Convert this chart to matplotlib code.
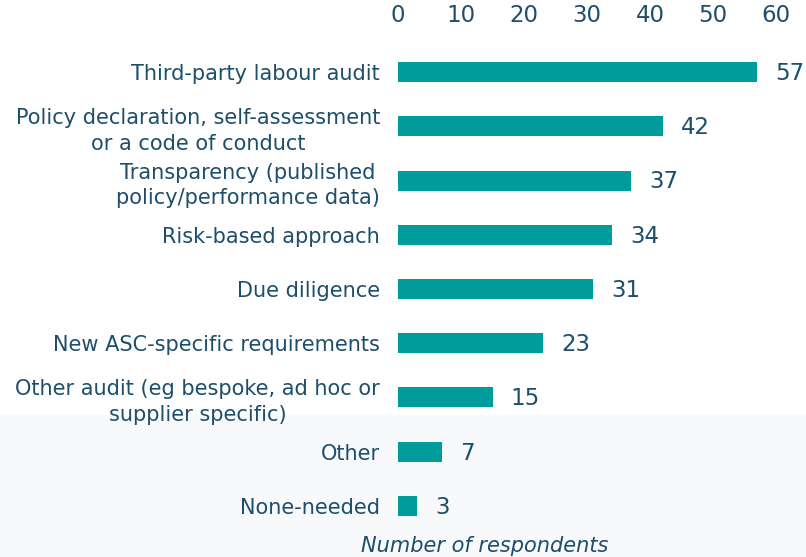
import matplotlib
matplotlib.use("Agg")
import matplotlib.pyplot as plt
from matplotlib.patches import Rectangle

categories = [
    "Third-party labour audit",
    "Policy declaration, self-assessment\nor a code of conduct",
    "Transparency (published\npolicy/performance data)",
    "Risk-based approach",
    "Due diligence",
    "New ASC-specific requirements",
    "Other audit (eg bespoke, ad hoc or\nsupplier specific)",
    "Other",
    "None-needed",
]
values = [57, 42, 37, 34, 31, 23, 15, 7, 3]
xticks = [0, 10, 20, 30, 40, 50, 60]

BAR = "#009b9b"
TXT = "#1d4e6b"
FONT = "DejaVu Sans"

fig = plt.figure(figsize=(8.06, 5.57), dpi=100)
fig.patches.append(Rectangle((0, 0), 1, 1 - 415 / 557, transform=fig.transFigure,
                             facecolor="#f8f9fb", edgecolor="none", zorder=-10))

ax = fig.add_axes([398 / 806, 1 - 533 / 557, (776 - 398) / 806, (533 - 45) / 557])
ax.set_facecolor("none")
y = list(range(len(categories)))
ax.barh(y, values, height=0.37, color=BAR)
ax.set_ylim(len(categories) - 0.5, -0.5)
ax.set_xlim(0, 60)
ax.xaxis.tick_top()
ax.set_xticks(xticks)
ax.set_xticklabels([str(t) for t in xticks], fontsize=16.5, color=TXT, family=FONT)
ax.set_yticks(y)
ax.set_yticklabels(categories, fontsize=15, color=TXT, family=FONT,
                   multialignment="center", linespacing=1.35)
ax.tick_params(axis="both", length=0)
ax.tick_params(axis="x", pad=13)
ax.tick_params(axis="y", pad=13)
for s in ax.spines.values():
    s.set_visible(False)

for yi, v in zip(y, values):
    ax.annotate(str(v), (v, yi), xytext=(13, -1), textcoords="offset points",
                ha="left", va="center", fontsize=16.5, color=TXT, family=FONT)

fig.text(485 / 806, 1 - 546 / 557, "Number of respondents", ha="center", va="center",
         fontsize=15, style="italic", color=TXT, family=FONT)

fig.savefig("out.png", dpi=100)
